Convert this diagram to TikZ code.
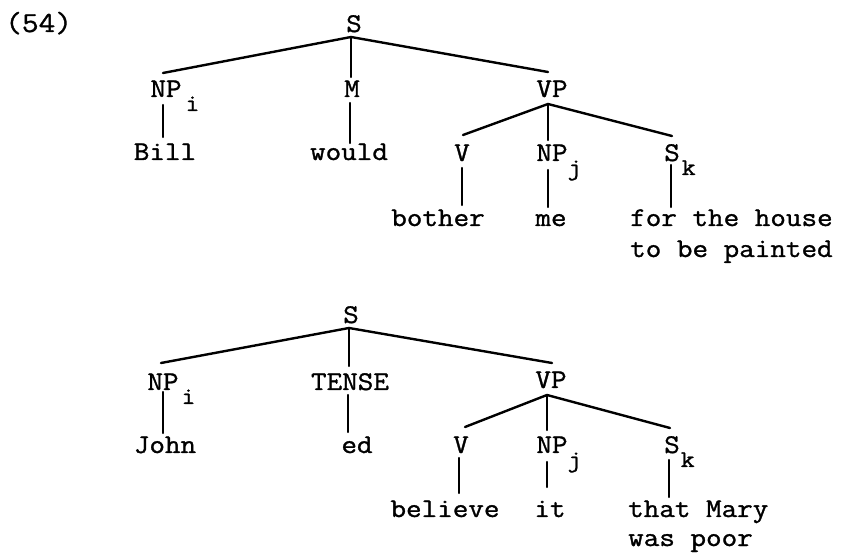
\documentclass[tikz,border=0pt]{standalone}
\usepackage{fontspec}
\setmainfont{Latin Modern Mono}[FakeStretch=1.12,FakeBold=1.2]
\usetikzlibrary{calc}
\newcommand{\lsub}[2]{\rlap{\kern#1pt\raisebox{-14pt}{\fontsize{24}{28}\selectfont #2}}}
\tikzset{
  lab/.style={inner sep=0pt, anchor=base, font=\fontsize{27}{31}\selectfont},
  labw/.style={inner sep=0pt, anchor=base west, font=\fontsize{27}{31}\selectfont},
  br/.style={line width=2.4pt, line cap=round}
}
\begin{document}
\begin{tikzpicture}[x=1pt,y=1pt]
\path[use as bounding box, fill=white] (0,0) rectangle (843,554);
% label
\node[labw, font=\fontsize{29}{33}\selectfont] (num) at (5,522) {(54)};
% ---------- top tree ----------
\node[lab] (S1) at (354,522) {S};
\node[lab] (NPi1) at (166,457) {NP\lsub{4}{i}};
\node[lab] (M1) at (352,457) {M};
\node[lab] (VP1) at (552,457) {VP};
\node[lab] (Bill) at (165,394) {Bill};
\node[lab] (would) at (349,394) {would};
\node[lab] (V1) at (462,393) {V};
\node[lab] (NPj1) at (552,393) {NP\lsub{0}{j}};
\node[lab] (Sk1) at (672,393) {S\lsub{2}{k}};
\node[lab] (bother) at (438,328) {bother};
\node[lab] (me) at (551,328) {me};
\node[labw] (house) at (630,328) {for the house};
\node[labw] (painted) at (630,297) {to be painted};
\draw[br] ($(S1.base)+(-3,-5)$) -- ($(NPi1.base)+(-3,24)$);
\draw[br] ($(S1.base)+(-3,-5)$) -- ($(M1.base)+(-1,20)$);
\draw[br] ($(S1.base)+(-3,-5)$) -- ($(VP1.base)+(-4,25)$);
\draw[br] ($(NPi1.base)+(-3,-8)$) -- ($(Bill.base)+(-2,23)$);
\draw[br] ($(M1.base)+(-2,-6)$) -- ($(would.base)+(1,17)$);
\draw[br] ($(VP1.base)+(-4,-7)$) -- ($(V1.base)+(1,26)$);
\draw[br] ($(VP1.base)+(-4,-7)$) -- ($(NPj1.base)+(-4,21)$);
\draw[br] ($(VP1.base)+(-4,-7)$) -- ($(Sk1.base)+(0,25)$);
\draw[br] ($(V1.base)+(0,-7)$) -- ($(bother.base)+(24,21)$);
\draw[br] ($(NPj1.base)+(-4,-9)$) -- ($(me.base)+(-3,19)$);
\draw[br] ($(Sk1.base)+(-1,-4)$) -- ($(house.base west)+(41,19)$);
% ---------- bottom tree ----------
\node[lab] (S2) at (351,231) {S};
\node[lab] (NPi2) at (163,164) {NP\lsub{3}{i}};
\node[lab] (TENSE) at (350,164) {TENSE};
\node[lab] (VP2) at (551,166) {VP};
\node[lab] (John) at (165,101) {John};
\node[lab] (ed) at (357,101) {ed};
\node[lab] (V2) at (461,101) {V};
\node[lab] (NPj2) at (552,101) {NP\lsub{0}{j}};
\node[lab] (Sk2) at (672,101) {S\lsub{1}{k}};
\node[lab] (believe) at (445,37) {believe};
\node[lab] (it) at (550,37) {it};
\node[labw] (mary) at (628,37) {that Mary};
\node[labw] (poor) at (628,8) {was poor};
\draw[br] ($(S2.base)+(-2,-5)$) -- ($(NPi2.base)+(-2,27)$);
\draw[br] ($(S2.base)+(-2,-5)$) -- ($(TENSE.base)+(-1,24)$);
\draw[br] ($(S2.base)+(-2,-5)$) -- ($(VP2.base)+(1,25)$);
\draw[br] ($(NPi2.base)+(0,-2)$) -- ($(John.base)+(-2,20)$);
\draw[br] ($(TENSE.base)+(-2,-5)$) -- ($(ed.base)+(-9,21)$);
\draw[br] ($(VP2.base)+(-4,-7)$) -- ($(V2.base)+(4,26)$);
\draw[br] ($(VP2.base)+(-4,-7)$) -- ($(NPj2.base)+(-5,23)$);
\draw[br] ($(VP2.base)+(-4,-7)$) -- ($(Sk2.base)+(-2,25)$);
\draw[br] ($(V2.base)+(-2,-5)$) -- ($(believe.base)+(14,24)$);
\draw[br] ($(NPj2.base)+(-5,-9)$) -- ($(it.base)+(-3,30)$);
\draw[br] ($(Sk2.base)+(-3,-7)$) -- ($(mary.base west)+(41,20)$);
\end{tikzpicture}
\end{document}
